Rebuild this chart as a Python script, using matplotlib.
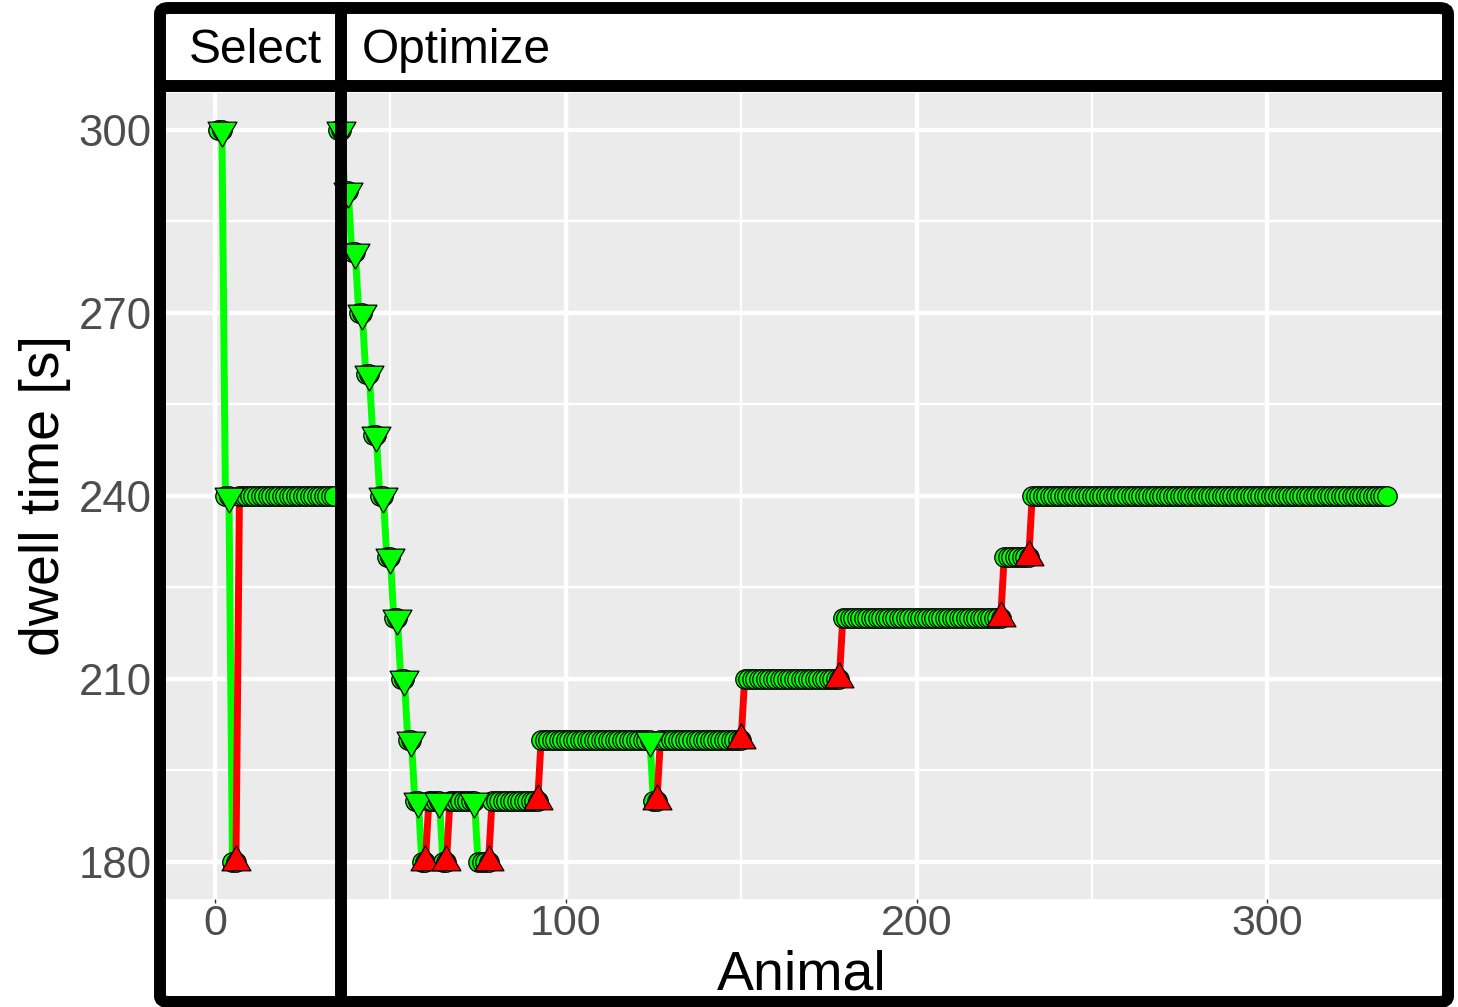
import numpy as np
import matplotlib
matplotlib.use("Agg")
import matplotlib.pyplot as plt
from matplotlib.collections import LineCollection
from matplotlib.patches import FancyBboxPatch
from matplotlib.lines import Line2D

plt.rcParams['font.family'] = ['Liberation Sans', 'DejaVu Sans']

# dwell time level and number of consecutive animals kept at that level
select_levels = [300, 240, 180, 240]
select_counts = [2, 2, 2, 28]
optimize_levels = [300, 290, 280, 270, 260, 250, 240, 230, 220, 210, 200, 190,
                   180, 190, 180, 190, 180, 190, 200, 190, 200, 210, 220, 230, 240]
optimize_counts = [2, 2, 2, 2, 2, 2, 2, 2, 2, 2, 2, 2,
                   2, 4, 2, 8, 4, 14, 32, 2, 24, 28, 46, 8, 102]
phase_names = ["Select", "Optimize"]
x_ticks = [0, 100, 200, 300]
y_ticks = [180, 210, 240, 270, 300]

GREEN = "#00FF00"
RED = "#FF0000"
W, H = 1458, 1007


def expand(levels, counts, start):
    y = np.repeat(levels, counts)
    x = np.arange(start, start + len(y))
    return x, y


def fx(px):
    return px / W


def fy(py):
    return 1 - py / H


# triangle markers centred on their centroid
tri_up = [(0, 1.155), (-1, -0.577), (1, -0.577), (0, 1.155)]
tri_down = [(0, -1.155), (-1, 0.577), (1, 0.577), (0, -1.155)]

fig = plt.figure(figsize=(W / 100, H / 100), dpi=100)
ax = fig.add_axes([fx(160), fy(898.5), fx(1445) - fx(160), fy(93) - fy(898.5)])
ax.set_facecolor("#EBEBEB")
for s in ax.spines.values():
    s.set_visible(False)

start = 1
for levels, counts in [(select_levels, select_counts), (optimize_levels, optimize_counts)]:
    x, y = expand(levels, counts, start)
    start = x[-1] + 1

    segs = [[(x[k], y[k]), (x[k + 1], y[k + 1])] for k in range(len(x) - 1)]
    cols = [RED if y[k + 1] > y[k] else GREEN for k in range(len(x) - 1)]
    ax.add_collection(LineCollection(segs, colors=cols, linewidths=5,
                                     capstyle='butt', zorder=2))

    ax.scatter(x, y, s=14 ** 2, c=GREEN, edgecolors='black', linewidths=0.9, zorder=3)

    ends = np.cumsum(counts)[:-1] - 1
    for i, idx in enumerate(ends):
        up = levels[i + 1] > levels[i]
        ax.scatter([x[idx]], [y[idx]], s=24 ** 2, marker=tri_up if up else tri_down,
                   c=RED if up else GREEN, edgecolors='black', linewidths=0.9, zorder=4)

ax.set_xlim(-15.65, 350.65)
ax.set_ylim(174, 306)
ax.set_xticks(x_ticks)
ax.set_yticks(y_ticks)
ax.set_xticks([50, 150, 250], minor=True)
ax.set_yticks([195, 225, 255, 285], minor=True)
ax.grid(True, which='major', color='white', linewidth=3.2)
ax.grid(True, which='minor', color='white', linewidth=1.7)
ax.set_axisbelow(True)
ax.tick_params(axis='y', which='both', length=0, pad=5.8, labelsize=31.5, labelcolor='#4D4D4D')
ax.tick_params(axis='x', which='major', length=3, width=1, color='#333333', pad=1,
               labelsize=31, labelcolor='#4D4D4D')
ax.tick_params(axis='x', which='minor', length=0)

# outer frame, strip separator and phase divider
lw = 8.6
fig.add_artist(FancyBboxPatch((fx(160), fy(1002)), fx(1448) - fx(160), fy(8) - fy(1002),
                              boxstyle="round,pad=0,rounding_size=0.006",
                              transform=fig.transFigure, fill=False,
                              edgecolor='black', linewidth=lw))
fig.add_artist(Line2D([fx(160), fx(1448)], [fy(86), fy(86)], transform=fig.transFigure,
                      color='black', linewidth=lw))
fig.add_artist(Line2D([fx(341), fx(341)], [fy(8), fy(1002)], transform=fig.transFigure,
                      color='black', linewidth=lw))

fig.text(fx(255), fy(63), phase_names[0], ha='center', va='baseline', fontsize=34.5)
fig.text(fx(362), fy(63), phase_names[1], ha='left', va='baseline', fontsize=34.5)

fig.text(fx(802), fy(990), "Animal", ha='center', va='baseline', fontsize=40)
fig.text(fx(45), fy(495), "dwell time [s]", ha='center', va='center',
         rotation=90, fontsize=40)

fig.savefig("out.png", dpi=100, facecolor='white')
